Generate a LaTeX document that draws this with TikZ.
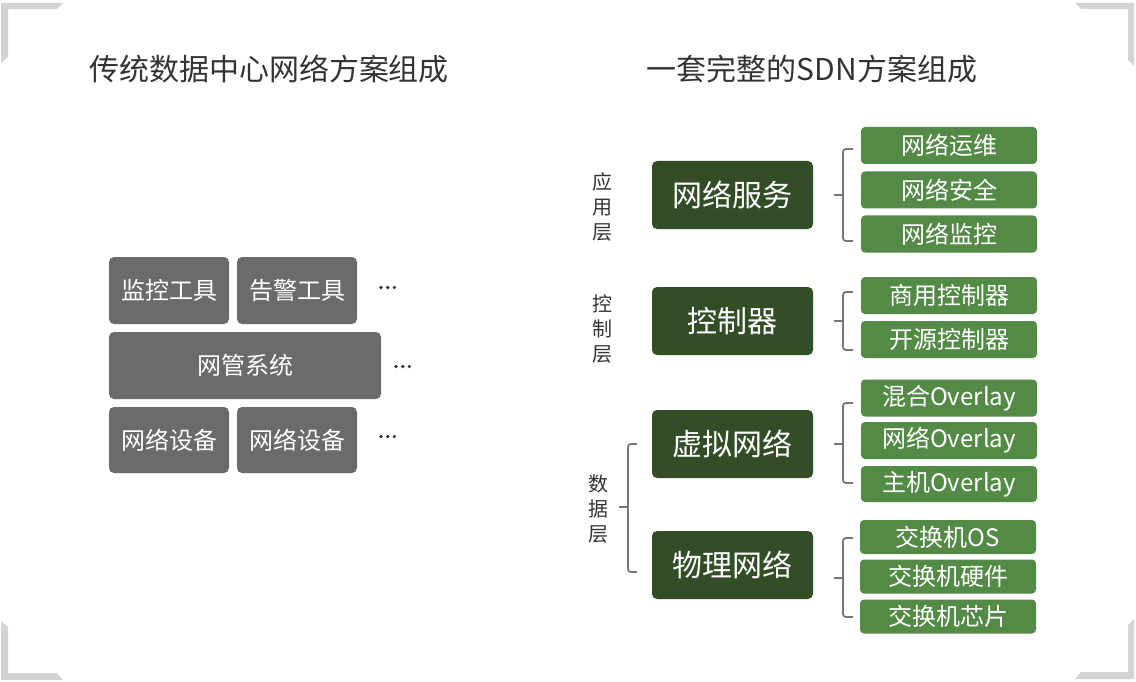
\documentclass[tikz,border=0pt]{standalone}
\usepackage{fontspec}
\setmainfont{Noto Sans CJK SC}
\definecolor{boxgray}{HTML}{6B6B6B}
\definecolor{darkgreen}{HTML}{334E27}
\definecolor{midgreen}{HTML}{538A45}
\definecolor{brkgray}{HTML}{767676}
\definecolor{cornergray}{HTML}{D3D3D3}
\definecolor{txtdark}{HTML}{333333}
\tikzset{
  graybox/.style={fill=boxgray, rounded corners=5pt, inner sep=0pt, text=white, font=\fontsize{24}{24}\selectfont},
  darkbox/.style={fill=darkgreen, rounded corners=5pt, inner sep=0pt, text=white, minimum width=161pt, minimum height=68pt, font=\fontsize{30}{30}\selectfont},
  greenbox/.style={fill=midgreen, rounded corners=4pt, inner sep=0pt, text=white, minimum width=176pt, font=\fontsize{24}{24}\selectfont},
  brk/.style={draw=brkgray, line width=1.8pt, rounded corners=3pt},
  layer/.style={text=txtdark, inner sep=0pt, align=center, font=\fontsize{20}{25}\selectfont},
  titletext/.style={text=txtdark, inner sep=0pt, font=\fontsize{30}{30}\selectfont},
  dotmark/.style={circle, fill=txtdark, inner sep=0pt, minimum size=3.6pt},
}
\begin{document}
\begin{tikzpicture}[x=1pt,y=-1pt]
\useasboundingbox (0,0) rectangle (1136,682);
% corners
\fill[cornergray] (1,3) -- (63,3) -- (57,9) -- (8,9) -- (8,57) -- (1,63) -- cycle;
\fill[cornergray] (1134,3) -- (1075,3) -- (1081,9) -- (1128,9) -- (1128,60) -- (1134,66) -- cycle;
\fill[cornergray] (1,680) -- (1,621) -- (8,627) -- (8,673) -- (57,673) -- (63,680) -- cycle;
\fill[cornergray] (1134,679) -- (1075,679) -- (1081,672) -- (1128,672) -- (1128,625) -- (1134,619) -- cycle;
% titles
\node[titletext] (t1) at (269,69) {传统数据中心网络方案组成};
\node[titletext] (t2) at (812,69) {一套完整的SDN方案组成};
% left stack
\node[graybox, minimum width=120pt, minimum height=67pt] (m1) at (169,290.5) {监控工具};
\node[graybox, minimum width=120pt, minimum height=67pt] (m2) at (297,290.5) {告警工具};
\node[graybox, minimum width=272pt, minimum height=67pt] (nm) at (245,365.5) {网管系统};
\node[graybox, minimum width=120pt, minimum height=66pt] (e1) at (169,440) {网络设备};
\node[graybox, minimum width=120pt, minimum height=66pt] (e2) at (297,440) {网络设备};
% ellipsis dots
\foreach \n/\x/\y in {a/381/287.5, b/396/366.5, c/381/436.5}{
  \node[dotmark] (\n1) at (\x,\y) {};
  \node[dotmark] (\n2) at (\x+6.7,\y) {};
  \node[dotmark] (\n3) at (\x+13.4,\y) {};
}
% layer labels
\node[layer] (l1) at (602,207) {应\\用\\层};
\node[layer] (l2) at (602,329) {控\\制\\层};
\node[layer] (l3) at (598,509) {数\\据\\层};
% dark boxes
\node[darkbox] (s1) at (732.5,195) {网络服务};
\node[darkbox] (s2) at (732.5,321) {控制器};
\node[darkbox] (s3) at (732.5,444) {虚拟网络};
\node[darkbox] (s4) at (732.5,565) {物理网络};
% green boxes
\node[greenbox, minimum height=37pt] (g1) at (949,145.5) {网络运维};
\node[greenbox, minimum height=37pt] (g2) at (949,190) {网络安全};
\node[greenbox, minimum height=37pt] (g3) at (949,234) {网络监控};
\node[greenbox, minimum height=37pt] (g4) at (949,295.5) {商用控制器};
\node[greenbox, minimum height=37pt] (g5) at (949,339.5) {开源控制器};
\node[greenbox, minimum height=37pt] (g6) at (949,398) {混合Overlay};
\node[greenbox, minimum height=37pt] (g7) at (949,440.5) {网络Overlay};
\node[greenbox, minimum height=36pt] (g8) at (949,484) {主机Overlay};
\node[greenbox, minimum height=34pt] (g9) at (948,537) {交换机OS};
\node[greenbox, minimum height=34pt] (g10) at (948,576.5) {交换机硬件};
\node[greenbox, minimum height=34pt] (g11) at (948,616.5) {交换机芯片};
% bracket coordinates
\coordinate (b1t) at (853,149); \coordinate (b1b) at (853,241); \coordinate (b1m) at (834,195);
\coordinate (b2t) at (853,292); \coordinate (b2b) at (853,350); \coordinate (b2m) at (834,321);
\coordinate (b3t) at (853,403); \coordinate (b3b) at (853,483); \coordinate (b3m) at (834,444);
\coordinate (b4t) at (853,538); \coordinate (b4b) at (853,617); \coordinate (b4m) at (834,578);
\coordinate (b5t) at (637,444); \coordinate (b5b) at (637,572); \coordinate (b5m) at (619,507);
% brackets
\draw[brk] (b1t) -- (843,149) -- (843,241) -- (b1b);
\draw[brk] (b1m) -- (843,195);
\draw[brk] (b2t) -- (843,292) -- (843,350) -- (b2b);
\draw[brk] (b2m) -- (843,321);
\draw[brk] (b3t) -- (843,403) -- (843,483) -- (b3b);
\draw[brk] (b3m) -- (843,444);
\draw[brk] (b4t) -- (843,538) -- (843,617) -- (b4b);
\draw[brk] (b4m) -- (843,578);
\draw[brk] (b5t) -- (628,444) -- (628,572) -- (b5b);
\draw[brk] (b5m) -- (628,507);
\end{tikzpicture}
\end{document}
